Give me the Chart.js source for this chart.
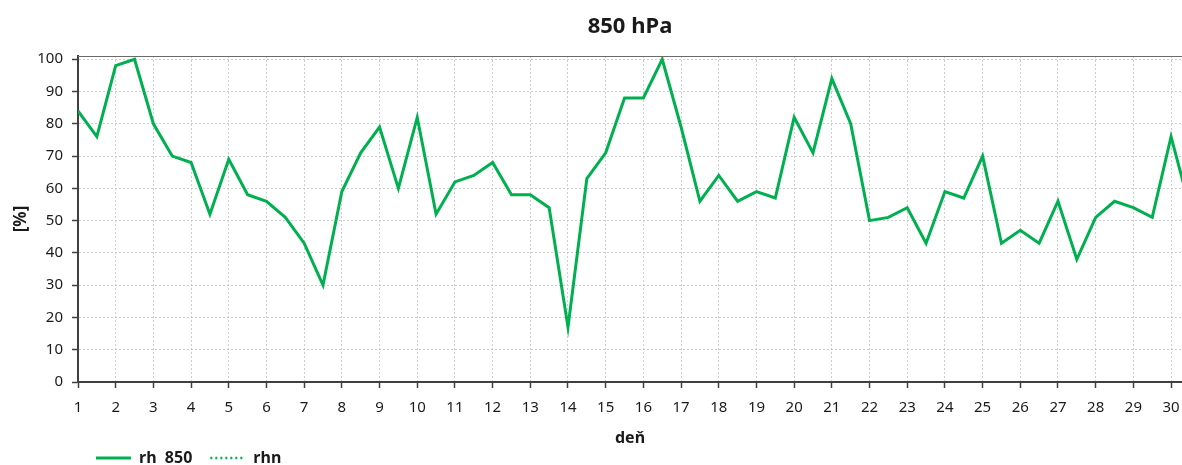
<!DOCTYPE html>
<html>
<head>
<meta charset="utf-8">
<title>850 hPa</title>
<script src="https://cdn.jsdelivr.net/npm/chart.js@4/dist/chart.umd.min.js"></script>
<style>
  html, body { margin: 0; padding: 0; background: #fff; overflow: hidden; }
  #wrap { width: 1182px; height: 465px; }
</style>
</head>
<body>
<div id="wrap"><canvas id="rh-chart" width="1182" height="465"></canvas></div>
<script>
/* ================== DATA ================== */
const TITLE = '850 hPa';

// day of month, two readings per day
const days = [
  1, 1.5, 2, 2.5, 3, 3.5, 4, 4.5, 5, 5.5,
  6, 6.5, 7, 7.5, 8, 8.5, 9, 9.5, 10, 10.5,
  11, 11.5, 12, 12.5, 13, 13.5, 14, 14.5, 15, 15.5,
  16, 16.5, 17, 17.5, 18, 18.5, 19, 19.5, 20, 20.5,
  21, 21.5, 22, 22.5, 23, 23.5, 24, 24.5, 25, 25.5,
  26, 26.5, 27, 27.5, 28, 28.5, 29, 29.5, 30, 30.5
];

// relative humidity at 850 hPa [%]
const rh850 = [
  84, 76, 98, 100, 80, 70, 68, 52, 69, 58,
  56, 51, 43, 30, 59, 71, 79, 60, 82, 52,
  62, 64, 68, 58, 58, 54, 17, 63, 71, 88,
  88, 100, 79, 56, 64, 56, 59, 57, 82, 71,
  94, 80, 50, 51, 54, 43, 59, 57, 70, 43,
  47, 43, 56, 38, 51, 56, 54, 51, 76, 54
];

// normal values (no data this month)
const rhn = [];

const GREEN = '#00b050';
const INK = '#1a1a1a';
const AXIS = '#404040';
const GRID = '#cdcdcd';

/* ================== TITLE + TOP FRAME ================== */
const frameAndTitle = {
  id: 'frameAndTitle',
  afterDraw(chart) {
    const { ctx, chartArea: { left, right, top } } = chart;
    ctx.save();
    ctx.strokeStyle = '#6b6b6b';
    ctx.lineWidth = 1;
    ctx.beginPath();
    ctx.moveTo(left, top + 0.5);
    ctx.lineTo(right, top + 0.5);
    ctx.stroke();

    ctx.font = 'bold 22px "Noto Sans", sans-serif';
    ctx.fillStyle = INK;
    ctx.textAlign = 'center';
    ctx.textBaseline = 'middle';
    ctx.fillText(TITLE, (left + right) / 2, 27);
    ctx.restore();
  }
};

Chart.defaults.font.family = '"Noto Sans", sans-serif';
Chart.defaults.color = INK;

// legend lines keep each dataset's own width and dash
function legendLabels(chart) {
  return Chart.defaults.plugins.legend.labels.generateLabels(chart).map(item => {
    const ds = chart.data.datasets[item.datasetIndex];
    return { ...item, lineDash: ds.borderDash || [], lineWidth: ds.borderWidth, strokeStyle: ds.borderColor };
  });
}

const ctx = document.getElementById('rh-chart').getContext('2d');

new Chart(ctx, {
  type: 'line',
  data: {
    datasets: [
      {
        label: 'rh  850',
        data: days.map((d, i) => ({ x: d, y: rh850[i] })),
        borderColor: GREEN,
        backgroundColor: GREEN,
        borderWidth: 3,
        pointRadius: 0,
        tension: 0,
        fill: false
      },
      {
        label: 'rhn',
        data: rhn,
        borderColor: GREEN,
        backgroundColor: GREEN,
        borderWidth: 2.5,
        borderDash: [2, 3],
        pointRadius: 0,
        fill: false
      }
    ]
  },
  options: {
    responsive: false,
    animation: false,
    events: [],
    layout: { padding: { top: 56, right: 0, bottom: 0, left: 0 } },
    scales: {
      x: {
        type: 'linear',
        min: 1,
        max: 30.29,
        afterFit: s => {
          s.height = 50;
          // plot runs right up to the canvas edges
          s.paddingLeft = 0;
          s.paddingRight = 0;
        },
        ticks: {
          stepSize: 1,
          includeBounds: false,
          autoSkip: false,
          maxRotation: 0,
          padding: 11,
          color: INK,
          font: { size: 15 }
        },
        grid: { color: GRID, tickColor: AXIS, tickLength: 6, tickWidth: 1.5 },
        border: { color: AXIS, width: 2, dash: [2, 2] },
        title: {
          display: true,
          text: 'deň',
          color: INK,
          font: { size: 16, weight: 'bold' },
          padding: { top: 0, bottom: -16 }
        }
      },
      y: {
        min: 0,
        max: 101,
        afterFit: s => { s.width = 78; },
        ticks: {
          stepSize: 10,
          includeBounds: false,
          padding: 9,
          color: INK,
          font: { size: 15 }
        },
        grid: { color: GRID, tickColor: AXIS, tickLength: 6, tickWidth: 1.5 },
        border: { color: AXIS, width: 2, dash: [2, 2] },
        title: {
          display: true,
          text: '[%]',
          color: INK,
          font: { size: 17, weight: 'bold' },
          padding: { top: 11, bottom: 0 }
        }
      }
    },
    plugins: {
      tooltip: { enabled: false },
      legend: {
        position: 'bottom',
        align: 'start',
        fullSize: false,
        maxHeight: 33,
        labels: {
          usePointStyle: true,
          pointStyle: 'line',
          pointStyleWidth: 35,
          padding: 18,
          color: INK,
          font: { size: 16, weight: 'bold' },
          generateLabels: legendLabels
        }
      }
    }
  },
  plugins: [frameAndTitle]
});
</script>
</body>
</html>
